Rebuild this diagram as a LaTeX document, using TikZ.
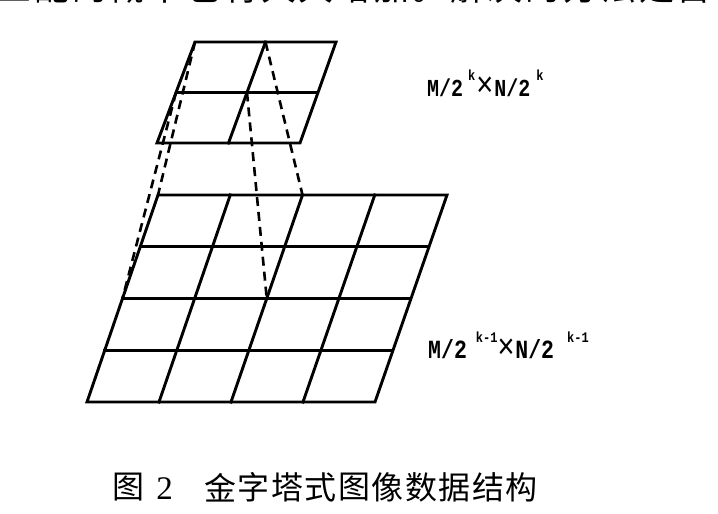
\documentclass[tikz,border=0pt]{standalone}
\usepackage{fontspec}
\usepackage{graphicx}
\setmainfont{Liberation Serif}
\newfontfamily\cjk{Noto Sans CJK SC}
\newfontfamily\labfont{Liberation Mono}
\newfontfamily\crossfont{Liberation Sans}
\usetikzlibrary{calc}
\tikzset{
  gridline/.style={line width=2.9pt, line cap=rect, line join=miter},
  conn/.style={line width=2.6pt, dash pattern=on 9pt off 6pt},
  toptext/.style={anchor=base, inner sep=0pt, font=\cjk\fontsize{35}{35}\selectfont},
  captext/.style={anchor=center, inner sep=0pt, font=\cjk\fontsize{32}{32}\selectfont},
  lab/.style={anchor=base west, inner sep=0pt}
}
\newcommand\supk[1]{\raisebox{12.5pt}{\fontsize{12}{12}\selectfont #1}}
\newcommand\crs{{\crossfont\mdseries\fontsize{29}{29}\selectfont\raisebox{0pt}{×}}}
\begin{document}
\begin{tikzpicture}[x=1pt,y=-1pt]
\useasboundingbox (0,0) rectangle (718,514);
\fill[white] (0,0) rectangle (718,514);
% clipped line of running text at the top
\begin{scope}
\clip (0,0) rectangle (718,514);
\foreach \c [count=\i] in {匹,配,的,概,率,也,将,大,大,增,加,。,解,决,的,方,法,是,首}
  \node[toptext] (t\i) at ({14+37.8*(\i-1)},1) {\c};
\end{scope}
% top grid (2 x 2)
\coordinate (tTL) at (195,42);
\coordinate (tTR) at (336,42);
\coordinate (tBL) at (157,143);
\coordinate (tBR) at (300,143);
\draw[gridline] (tTL) -- (tTR) -- (tBR) -- (tBL) -- cycle;
\draw[gridline] ($(tTL)!0.5!(tBL)$) -- ($(tTR)!0.5!(tBR)$);
\draw[gridline] ($(tTL)!0.5!(tTR)$) -- ($(tBL)!0.5!(tBR)$);
% bottom grid (4 x 4)
\coordinate (bTL) at (158,195);
\coordinate (bTR) at (447,195);
\coordinate (bBL) at (87,402);
\coordinate (bBR) at (375,402);
\draw[gridline] (bTL) -- (bTR) -- (bBR) -- (bBL) -- cycle;
\foreach \t in {0.25,0.5,0.75}{
  \draw[gridline] ($(bTL)!\t!(bBL)$) -- ($(bTR)!\t!(bBR)$);
  \draw[gridline] ($(bTL)!\t!(bTR)$) -- ($(bBL)!\t!(bBR)$);
}
% correspondence points
\coordinate (tTM) at ($(tTL)!0.5!(tTR)$);
\coordinate (tML) at ($(tTL)!0.5!(tBL)$);
\coordinate (tC) at ($(tML)!0.5!($(tTR)!0.5!(tBR)$)$);
\coordinate (bTM) at ($(bTL)!0.5!(bTR)$);
\coordinate (bML) at ($(bTL)!0.5!(bBL)$);
\coordinate (bC) at ($(bML)!0.5!($(bTR)!0.5!(bBR)$)$);
% dashed projection lines
\draw[conn] (tTL) -- (bTL);
\draw[conn] (tTM) -- (bTM);
\draw[conn] (tML) -- (bML);
\draw[conn] (tC) -- (bC);
% labels
\node[lab] (lab1) at (427,96) {\scalebox{1}[1.22]{\labfont\bfseries\fontsize{20}{20}\selectfont
  M/2\hspace{5pt}\supk{k}\hspace{1pt}\crs\hspace{1pt}N/2\hspace{6pt}\supk{k}}};
\node[lab] (lab2) at (428,358) {\scalebox{1}[1.22]{\labfont\bfseries\fontsize{21.5}{21.5}\selectfont
  M/2\hspace{9pt}\supk{k-1}\crs\hspace{1pt}N/2\hspace{13pt}\supk{k-1}}};
% caption
\node[captext] (fig) at (128.5,487.5) {图};
\node[anchor=base, inner sep=0pt, font=\fontsize{33}{33}\selectfont] (num) at (164.5,499) {2};
\foreach \c [count=\i] in {金,字,塔,式,图,像,数,据,结,构}
  \node[captext] (c\i) at ({220+33.5*(\i-1)},487.5) {\c};
\end{tikzpicture}
\end{document}
